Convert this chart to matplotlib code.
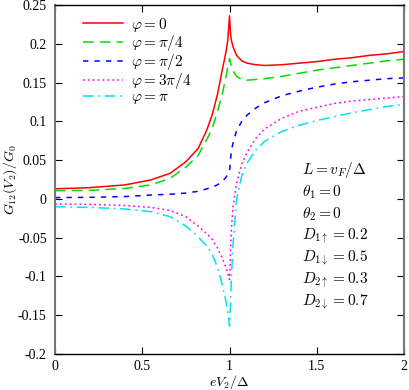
import matplotlib
matplotlib.use("Agg")
from matplotlib import pyplot as plt

plt.rcParams['font.family'] = 'Liberation Serif'
plt.rcParams['mathtext.fontset'] = 'cm'

# bias eV2/Delta
x = [0, 0.2, 0.4, 0.55, 0.66, 0.75, 0.82, 0.87, 0.9, 0.93, 0.96, 0.98, 0.99, 1.0,
     1.005, 1.01, 1.02, 1.04, 1.07, 1.1, 1.15, 1.2, 1.3, 1.4, 1.5, 1.6, 1.7, 1.8, 1.9, 2.0]

# G12/G0 for each phase
g_0 = [0.013, 0.0145, 0.018, 0.0245, 0.033, 0.048, 0.065, 0.089, 0.108, 0.134, 0.168, 0.19, 0.205, 0.236,
       0.215, 0.205, 0.196, 0.185, 0.178, 0.175, 0.173, 0.172, 0.173, 0.175, 0.177, 0.18, 0.182, 0.185, 0.187, 0.19]
g_pi4 = [0.0106, 0.011, 0.0135, 0.018, 0.0266, 0.041, 0.056, 0.077, 0.09, 0.112, 0.137, 0.158, 0.17, 0.181,
         0.176, 0.171, 0.165, 0.158, 0.154, 0.153, 0.154, 0.155, 0.158, 0.162, 0.166, 0.169, 0.172, 0.175, 0.178, 0.18]
g_pi2 = [0.0017, 0.002, 0.003, 0.005, 0.006, 0.0075, 0.0098, 0.013, 0.015, 0.018, 0.023, 0.028, 0.032, 0.036,
         0.048, 0.062, 0.072, 0.088, 0.1, 0.108, 0.117, 0.124, 0.133, 0.139, 0.144, 0.148, 0.151, 0.153, 0.155, 0.156]
g_3pi4 = [-0.0066, -0.007, -0.0085, -0.011, -0.015, -0.023, -0.035, -0.045, -0.052, -0.063, -0.077, -0.089, -0.096, -0.104,
          -0.075, -0.04, -0.01, 0.02, 0.045, 0.06, 0.078, 0.09, 0.104, 0.113, 0.118, 0.123, 0.126, 0.128, 0.13, 0.132]
g_pi = [-0.01, -0.011, -0.013, -0.0165, -0.023, -0.035, -0.049, -0.061, -0.071, -0.088, -0.112, -0.133, -0.146, -0.164,
        -0.138, -0.105, -0.058, -0.001, 0.03, 0.046, 0.063, 0.074, 0.087, 0.095, 0.101, 0.106, 0.111, 0.115, 0.119, 0.122]

labels = [r'$\varphi = 0$', r'$\varphi = \pi/4$', r'$\varphi = \pi/2$', r'$\varphi = 3\pi/4$', r'$\varphi = \pi$']
params = [r'$L = v_F/\Delta$', r'$\theta_1 = 0$', r'$\theta_2 = 0$', r'$D_{1\uparrow} = 0.2$',
          r'$D_{1\downarrow} = 0.5$', r'$D_{2\uparrow} = 0.3$', r'$D_{2\downarrow} = 0.7$']
xticks = [0, 0.5, 1, 1.5, 2]
xticklabels = ['0', '0.5', '1', '1.5', '2']
yticks = [-0.2, -0.15, -0.1, -0.05, 0, 0.05, 0.1, 0.15, 0.2, 0.25]
yticklabels = ['-0.2', '-0.15', '-0.1', '-0.05', '0', '0.05', '0.1', '0.15', '0.2', '0.25']

fig = plt.figure(figsize=(4.09, 3.90), dpi=100)
ax = fig.add_axes([0.1345, 0.0923, 0.8535, 0.8949])

ax.plot(x, g_0, color='#ff0000', lw=1.1, ls='-', label=labels[0])
ax.plot(x, g_pi4, color='#00dd00', lw=1.1, ls=(0, (7, 4)), label=labels[1])
ax.plot(x, g_pi2, color='#0000ff', lw=1.1, ls=(0, (3.5, 4)), label=labels[2])
ax.plot(x, g_3pi4, color='#ff00ff', lw=1.1, ls=(0, (1.2, 2)), label=labels[3])
ax.plot(x, g_pi, color='#00e5ee', lw=1.1, ls=(0, (7, 3, 1.2, 3)), label=labels[4])

ax.set_xlim(0, 2)
ax.set_ylim(-0.2, 0.25)
ax.set_xticks(xticks)
ax.set_xticklabels(xticklabels)
ax.set_yticks(yticks)
ax.set_yticklabels(yticklabels)
ax.tick_params(direction='in', top=True, right=True, length=5, labelsize=10, pad=6)
ax.tick_params(axis='x', labeltop=False, pad=4)
for s in ['left', 'right']:
    ax.spines[s].set_color('#777777')
    ax.spines[s].set_linewidth(1.5)
for s in ['top', 'bottom']:
    ax.spines[s].set_linewidth(1.0)

ax.set_xlabel(r'$eV_2/\Delta$', fontsize=10, labelpad=0)
ax.set_ylabel(r'$G_{12}(V_2)/G_0$', fontsize=10, labelpad=-1)

ax.legend(loc='upper left', frameon=False, fontsize=11, handlelength=2.6,
          labelspacing=-0.05, borderaxespad=0.3, handletextpad=0.5, bbox_to_anchor=(0.05, 1.0))

# parameter list on the right
for i, t in enumerate(params):
    ax.text(0.707, 0.527 - i * 0.063, t, transform=ax.transAxes, fontsize=11, va='center')

fig.savefig('out.png', dpi=100)
